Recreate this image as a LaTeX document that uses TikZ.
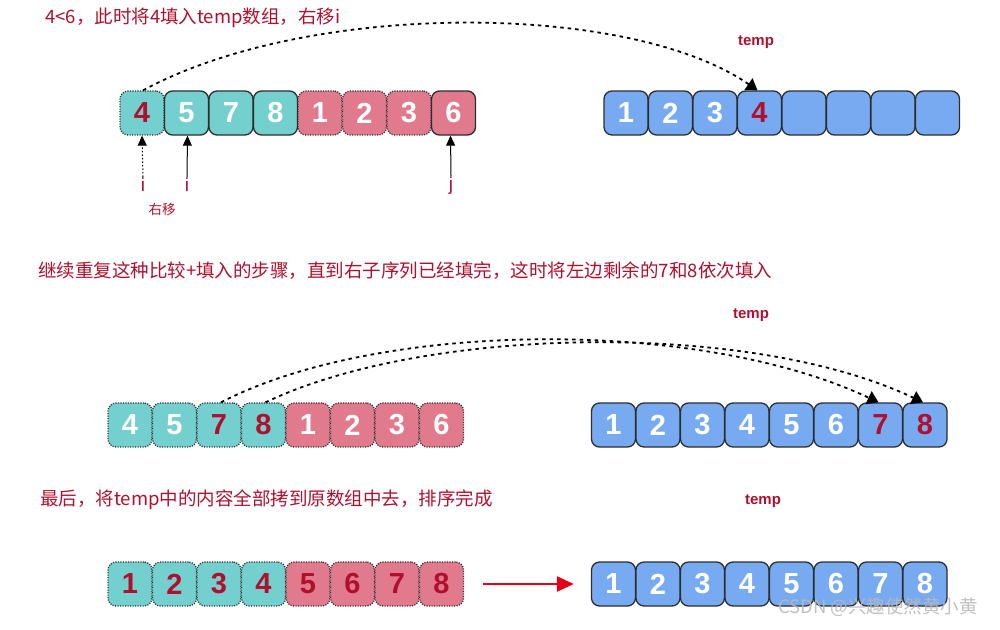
\documentclass[tikz,border=0pt]{standalone}
\usepackage{fontspec}
\setmainfont{Liberation Sans}
\newfontfamily\cjk{Noto Sans CJK SC}
\usetikzlibrary{arrows.meta}
\definecolor{tl}{RGB}{116,207,207}
\definecolor{pk}{RGB}{224,122,140}
\definecolor{bl}{RGB}{120,170,242}
\definecolor{rd}{RGB}{176,16,46}
\definecolor{ar}{RGB}{226,0,26}
\definecolor{bd}{RGB}{45,45,45}
\tikzset{
  cell/.style={rounded corners=8pt, minimum width=44pt, minimum height=44pt, inner sep=0pt,
    line width=1.3pt, draw=bd, font=\fontsize{29}{29}\selectfont\bfseries},
  sol/.style={solid},
  dot/.style={dash pattern=on 1.1pt off 1.4pt},
  title/.style={anchor=west, inner sep=0pt, text=rd, font=\cjk\fontsize{18.5}{21}\selectfont},
  templbl/.style={inner sep=0pt, text=rd, font=\fontsize{15}{17}\selectfont\bfseries},
  ptr/.style={inner sep=1pt, text=rd, font=\fontsize{19}{21}\selectfont},
  arc/.style={line width=1.8pt, dash pattern=on 3.5pt off 4pt, -{Triangle[length=11pt,width=14pt]}},
  ptrarrow/.style={line width=1pt, -{Triangle[length=10pt,width=9pt]}}
}
\begin{document}
\begin{tikzpicture}[x=1pt,y=-1pt]
\useasboundingbox (0,0) rectangle (1000,629);
% ---------- row 1 ----------
\node[title] (t1) at (45,18) {4<6，此时将4填入temp数组，右移i};
\node[templbl] (temp1) at (756,42) {temp};
\foreach \n/\f/\b/\c [count=\k] in {4/tl/dot/rd,5/tl/sol/white,7/tl/sol/white,8/tl/sol/white,1/pk/dot/white,2/pk/dot/white,3/pk/dot/white,6/pk/sol/white}
  \node[cell,fill=\f,\b,text=\c] (a\k) at ({142+44.5*(\k-1)},113) {\n};
\foreach \n/\c [count=\k] in {1/white,2/white,3/white,4/rd,{}/white,{}/white,{}/white,{}/white}
  \node[cell,fill=bl,text=\c] (b\k) at ({626+44.5*(\k-1)},113) {\n};
\node[ptr] (i1) at (143,185) {i};
\node[ptr] (i2) at (187,185) {i};
\node[ptr] (j1) at (451,186) {j};
\node[inner sep=0pt, text=rd, font=\cjk\fontsize{13.5}{15}\selectfont] (ry) at (162,209) {右移};
\draw[ptrarrow, dash pattern=on 1.5pt off 2pt] (i1.north) -- (a1.south);
\draw[ptrarrow] (i2.north) -- ([xshift=1pt]a2.south);
\draw[ptrarrow] (j1.north) -- ([xshift=-3pt]a8.south);
\draw[arc] ([xshift=1pt]a1.north) .. controls (310,0) and (630,2) .. ([xshift=-2pt]b4.north);
% ---------- row 2 ----------
\node[title] (t2) at (38,271) {继续重复这种比较+填入的步骤，直到右子序列已经填完，这时将左边剩余的7和8依次填入};
\node[templbl] (temp2) at (751,315) {temp};
\foreach \n/\f/\c [count=\k] in {4/tl/white,5/tl/white,7/tl/rd,8/tl/rd,1/pk/white,2/pk/white,3/pk/white,6/pk/white}
  \node[cell,fill=\f,dot,text=\c] (c\k) at ({130+44.5*(\k-1)},425) {\n};
\foreach \n/\c [count=\k] in {1/white,2/white,3/white,4/white,5/white,6/white,7/rd,8/rd}
  \node[cell,fill=bl,text=\c] (d\k) at ({613.5+44.5*(\k-1)},425) {\n};
\draw[arc] ([xshift=2pt]c3.north) .. controls (380,320) and (700,318) .. ([xshift=-2pt]d7.north);
\draw[arc] ([xshift=2pt]c4.north) .. controls (425,326) and (750,320) .. ([xshift=-2pt]d8.north);
% ---------- row 3 ----------
\node[title] (t3) at (40,500) {最后，将temp中的内容全部拷到原数组中去，排序完成};
\node[templbl] (temp3) at (763,501) {temp};
\foreach \n/\f [count=\k] in {1/tl,2/tl,3/tl,4/tl,5/pk,6/pk,7/pk,8/pk}
  \node[cell,fill=\f,dot,text=rd] (e\k) at ({130+44.5*(\k-1)},584) {\n};
\foreach \n [count=\k] in {1,2,3,4,5,6,7,8}
  \node[cell,fill=bl,text=white] (f\k) at ({613.5+44.5*(\k-1)},584) {\n};
\draw[ar, line width=2.6pt, -{Triangle[length=17pt,width=15pt]}, shorten <=19pt, shorten >=17pt] (e8.east) -- (f1.west);
% watermark
\node[inner sep=0pt, text=gray!55, opacity=0.9, font=\cjk\fontsize{18.5}{21}\selectfont] (wm) at (878,607) {CSDN @兴趣使然黄小黄};
\end{tikzpicture}
\end{document}
